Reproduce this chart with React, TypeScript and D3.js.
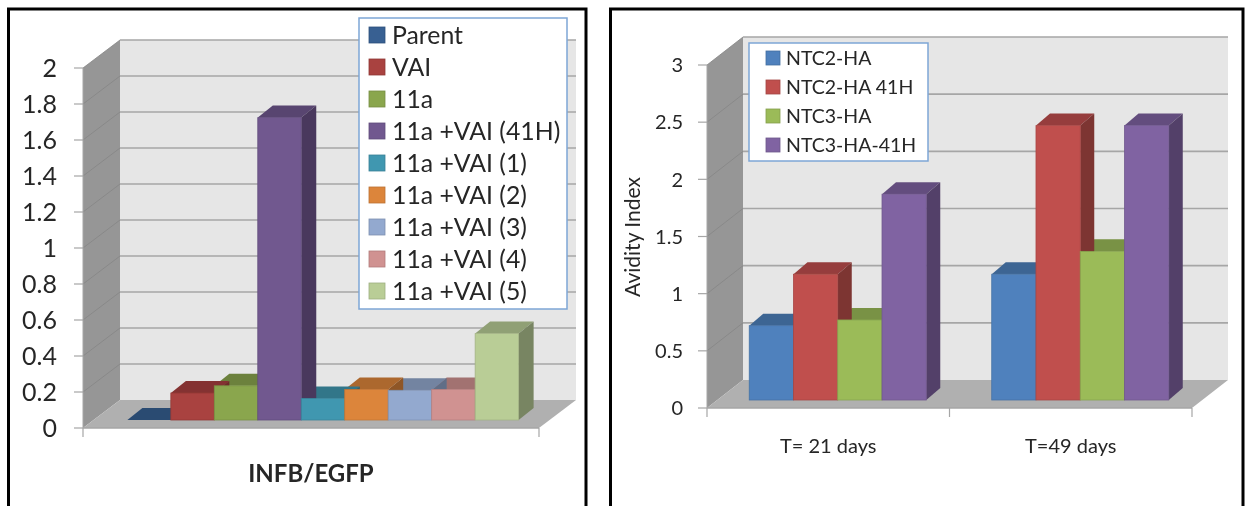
import * as d3 from "d3";

const leftSeries = ["Parent", "VAI", "11a", "11a +VAI (41H)", "11a +VAI (1)", "11a +VAI (2)", "11a +VAI (3)", "11a +VAI (4)", "11a +VAI (5)"];
const leftCategories = ["INFB/EGFP"];
const leftValues = [[0.0], [0.15], [0.19], [1.68], [0.12], [0.17], [0.165], [0.17], [0.48]];
const leftColors = ["#376092", "#a9423f", "#8aa64e", "#71588f", "#4197b0", "#dc853b", "#93a9cf", "#d09291", "#b9cd96"];
const leftTicks = [0, 0.2, 0.4, 0.6, 0.8, 1, 1.2, 1.4, 1.6, 1.8, 2];

const rightSeries = ["NTC2-HA", "NTC2-HA 41H", "NTC3-HA", "NTC3-HA-41H"];
const rightCategories = ["T= 21 days", "T=49 days"];
const rightValues = [[0.65, 1.1], [1.1, 2.4], [0.7, 1.3], [1.8, 2.4]];
const rightColors = ["#4f81bd", "#c0504d", "#9bbb59", "#8064a2"];
const rightTicks = [0, 0.5, 1, 1.5, 2, 2.5, 3];

const font = "Lato, 'Open Sans', sans-serif";

function shade(c: string, k: number) {
    const r = d3.rgb(c);
    return d3.rgb(r.r * k, r.g * k, r.b * k).formatHex();
}

type ChartProps = {
    series: string[];
    categories: string[];
    values: number[][];
    colors: string[];
    ticks: number[];
    x0: number;      // front axis left
    x1: number;      // front axis right
    y0: number;      // front axis, value 0
    yTop: number;    // front axis, max value
    wallDx: number;
    wallDy: number;
    barBase: number;
    barDx: number;
    barDy: number;
    barShift: number;
    groupFill: number;
    tickSize: number;
    tickX: number;
    tickFont: number;
    catFont: number;
    catY: number;
    catBold?: boolean;
    yTitle?: string;
    legend: { x: number; y: number; w: number; h: number; swatch: number; swatchX: number; textX: number; firstY: number; step: number; font: number };
};

function Chart3D(p: ChartProps) {
    const maxV = p.ticks[p.ticks.length - 1];
    const y = d3.scaleLinear().domain([0, maxV]).range([p.y0, p.yTop]);
    const h = p.y0 - p.yTop;
    const barY = d3.scaleLinear().domain([0, maxV]).range([p.barBase, p.barBase - h]);
    const xCat = d3.scaleBand<string>().domain(p.categories).range([p.x0, p.x1]);
    const groupW = xCat.bandwidth() * p.groupFill;
    const xSer = d3.scaleBand<string>().domain(p.series).range([0, groupW]);
    const w = xSer.bandwidth();

    const bars = p.categories.flatMap((cat, ci) =>
        p.series.map((s, si) => {
            const x = (xCat(cat) as number) + (xCat.bandwidth() - groupW) / 2 + p.barShift + (xSer(s) as number);
            return { key: s + cat, x, top: barY(p.values[si][ci]), color: p.colors[si] };
        })
    );
    const reversed = [...bars].reverse();
    const { wallDx: dx, wallDy: dy, barDx: bx, barDy: by, barBase } = p;
    const lg = p.legend;

    return (
        <g fontFamily={font} fill="#262626" filter="url(#soft)">
            {/* back wall, side wall, floor */}
            <polygon points={`${p.x0 + dx},${p.yTop - dy} ${p.x1 + dx},${p.yTop - dy} ${p.x1 + dx},${p.y0 - dy} ${p.x0 + dx},${p.y0 - dy}`} fill="#e6e6e6" />
            <polygon points={`${p.x0},${p.yTop} ${p.x0 + dx},${p.yTop - dy} ${p.x0 + dx},${p.y0 - dy} ${p.x0},${p.y0}`} fill="#969696" />
            <polygon points={`${p.x0},${p.y0} ${p.x0 + dx},${p.y0 - dy} ${p.x1 + dx},${p.y0 - dy} ${p.x1},${p.y0}`} fill="#b0b0b0" />

            {p.ticks.map((t) => (
                <g key={t} stroke="#a6a6a6">
                    {t > 0 && <line x1={p.x0 + dx} x2={p.x1 + dx} y1={y(t) - dy} y2={y(t) - dy} strokeWidth={1.6} />}
                    {t > 0 && <line x1={p.x0} x2={p.x0 + dx} y1={y(t)} y2={y(t) - dy} strokeWidth={0.8} stroke="#858585" />}
                    <line x1={p.x0 - p.tickSize} x2={p.x0} y1={y(t)} y2={y(t)} strokeWidth={1.2} />
                </g>
            ))}
            <line x1={p.x0} x2={p.x1} y1={p.y0} y2={p.y0} stroke="#a6a6a6" strokeWidth={1.5} />
            {d3.range(p.categories.length + 1).map((i) => {
                const tx = p.x0 + i * xCat.bandwidth();
                return <line key={i} x1={tx} x2={tx} y1={p.y0} y2={p.y0 + 9} stroke="#a6a6a6" strokeWidth={1.2} />;
            })}
            <line x1={p.x0} x2={p.x0} y1={p.yTop} y2={p.y0} stroke="#a6a6a6" strokeWidth={1} />

            {/* bars: tops, then sides, then fronts */}
            {reversed.map((b) => (
                <polygon key={b.key} points={`${b.x},${b.top} ${b.x + bx},${b.top - by} ${b.x + w + bx},${b.top - by} ${b.x + w},${b.top}`} fill={shade(b.color, 0.78)} />
            ))}
            {reversed.map((b) => (
                <polygon key={b.key} points={`${b.x + w},${b.top} ${b.x + w + bx},${b.top - by} ${b.x + w + bx},${barBase - by} ${b.x + w},${barBase}`} fill={shade(b.color, 0.65)} />
            ))}
            {bars.map((b) => (
                <rect key={b.key} x={b.x} y={b.top} width={w} height={barBase - b.top} fill={b.color} stroke={shade(b.color, 0.88)} strokeWidth={0.8} />
            ))}

            {p.ticks.map((t) => (
                <text key={t} x={p.tickX} y={y(t)} dy="0.36em" textAnchor="end" fontSize={p.tickFont}>{String(t)}</text>
            ))}
            {p.categories.map((c) => (
                <text key={c} x={(xCat(c) as number) + xCat.bandwidth() / 2} y={p.catY} textAnchor="middle" fontSize={p.catFont} fontWeight={p.catBold ? 700 : 400}>{c}</text>
            ))}
            {p.yTitle && (
                <text transform="translate(640,237) rotate(-90)" textAnchor="middle" fontSize={21}>{p.yTitle}</text>
            )}

            <rect x={lg.x} y={lg.y} width={lg.w} height={lg.h} fill="#ffffff" stroke="#7ea6d6" strokeWidth={1.5} />
            {p.series.map((s, i) => {
                const cy = lg.firstY + i * lg.step;
                return (
                    <g key={s}>
                        <rect x={lg.swatchX} y={cy - lg.swatch / 2} width={lg.swatch} height={lg.swatch} fill={p.colors[i]} stroke={shade(p.colors[i], 0.85)} strokeWidth={0.8} />
                        <text x={lg.textX} y={cy} dy="0.36em" fontSize={lg.font}>{s}</text>
                    </g>
                );
            })}
        </g>
    );
}

export default function App() {
    return (
        <svg width={1248} height={506} style={{ position: "absolute", left: 0, top: 0, display: "block", background: "#fff" }}>
            <defs>
                <filter id="soft" x="-5%" y="-5%" width="110%" height="110%">
                    <feGaussianBlur stdDeviation={0.45} />
                </filter>
            </defs>
            <path d="M8.5,506 V9 H586 V506" fill="none" stroke="#000" strokeWidth={3} />
            <path d="M610.5,506 V9 H1243 V506" fill="none" stroke="#000" strokeWidth={3} />
            <Chart3D
                series={leftSeries} categories={leftCategories} values={leftValues} colors={leftColors} ticks={leftTicks}
                x0={83} x1={539} y0={428} yTop={68} wallDx={37} wallDy={28}
                barBase={420} barDx={15} barDy={12} barShift={12} groupFill={0.858}
                tickSize={9} tickX={57} tickFont={25} catFont={24} catY={482} catBold
                legend={{ x: 359, y: 18, w: 208, h: 291, swatch: 16, swatchX: 369, textX: 392, firstY: 35, step: 32, font: 24.8 }}
            />
            <Chart3D
                series={rightSeries} categories={rightCategories} values={rightValues} colors={rightColors} ticks={rightTicks}
                x0={707} x1={1192} y0={408} yTop={65} wallDx={36} wallDy={28}
                barBase={400} barDx={14} barDy={12} barShift={9.5} groupFill={0.73}
                tickSize={9} tickX={683} tickFont={20} catFont={20} catY={453}
                yTitle="Avidity Index"
                legend={{ x: 749, y: 43, w: 179, h: 118, swatch: 14, swatchX: 766, textX: 786, firstY: 58, step: 29, font: 19.5 }}
            />
        </svg>
    );
}
